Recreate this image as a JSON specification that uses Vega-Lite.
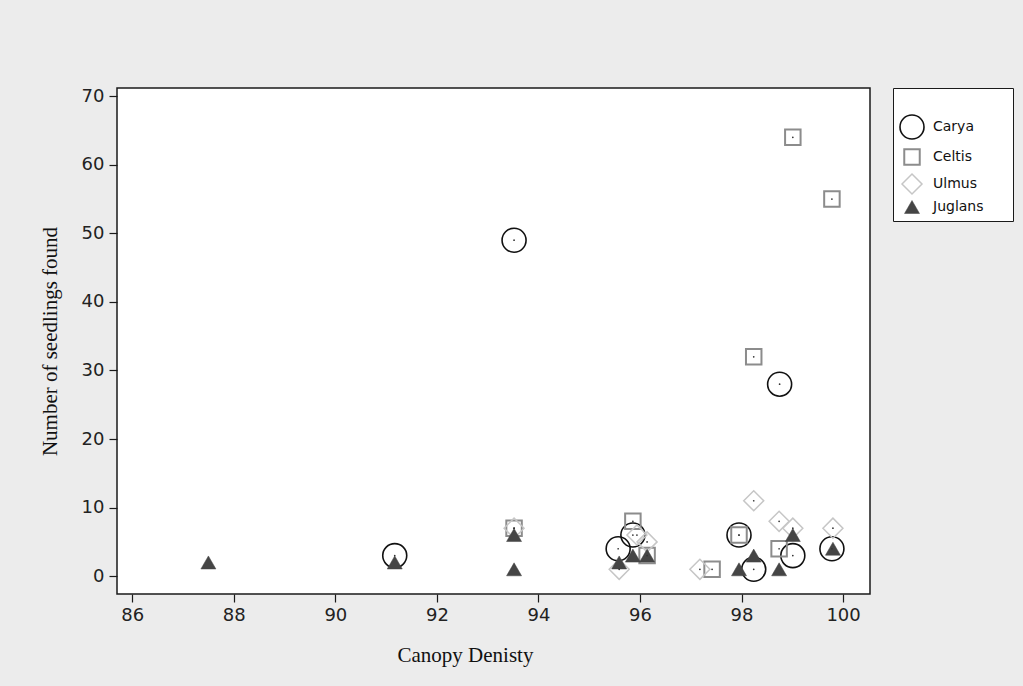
{
  "$schema": "https://vega.github.io/schema/vega-lite/v6.json",
  "width": 753,
  "height": 506,
  "autosize": {"type": "none"},
  "padding": {"left": 117, "top": 88, "right": 153, "bottom": 92},
  "background": "#ececec",
  "config": {
    "view": {"fill": "white", "stroke": "#1a1a1a", "strokeWidth": 1.5},
    "axis": {
      "grid": false,
      "domain": false,
      "tickColor": "#1a1a1a",
      "tickSize": 8,
      "tickWidth": 1.2,
      "labelFont": "DejaVu Sans",
      "labelFontSize": 18,
      "labelColor": "#222",
      "titleFont": "Liberation Serif",
      "titleFontSize": 21,
      "titleFontWeight": "normal",
      "titleColor": "#111"
    }
  },
  "data": {
    "values": [
      {"species": "Carya", "canopy": 91.17, "seedlings": 3},
      {"species": "Carya", "canopy": 93.52, "seedlings": 49},
      {"species": "Carya", "canopy": 95.57, "seedlings": 4},
      {"species": "Carya", "canopy": 95.86, "seedlings": 6},
      {"species": "Carya", "canopy": 97.95, "seedlings": 6},
      {"species": "Carya", "canopy": 98.24, "seedlings": 1},
      {"species": "Carya", "canopy": 98.75, "seedlings": 28},
      {"species": "Carya", "canopy": 99.01, "seedlings": 3},
      {"species": "Carya", "canopy": 99.78, "seedlings": 4},
      {"species": "Celtis", "canopy": 93.52, "seedlings": 7},
      {"species": "Celtis", "canopy": 95.86, "seedlings": 8},
      {"species": "Celtis", "canopy": 96.14, "seedlings": 3},
      {"species": "Celtis", "canopy": 97.42, "seedlings": 1},
      {"species": "Celtis", "canopy": 97.95, "seedlings": 6},
      {"species": "Celtis", "canopy": 98.24, "seedlings": 32},
      {"species": "Celtis", "canopy": 98.74, "seedlings": 4},
      {"species": "Celtis", "canopy": 99.01, "seedlings": 64},
      {"species": "Celtis", "canopy": 99.78, "seedlings": 55},
      {"species": "Ulmus", "canopy": 93.52, "seedlings": 7},
      {"species": "Ulmus", "canopy": 95.59, "seedlings": 1},
      {"species": "Ulmus", "canopy": 95.94, "seedlings": 6},
      {"species": "Ulmus", "canopy": 96.14, "seedlings": 5},
      {"species": "Ulmus", "canopy": 97.18, "seedlings": 1},
      {"species": "Ulmus", "canopy": 98.24, "seedlings": 11},
      {"species": "Ulmus", "canopy": 98.74, "seedlings": 8},
      {"species": "Ulmus", "canopy": 99.01, "seedlings": 7},
      {"species": "Ulmus", "canopy": 99.8, "seedlings": 7},
      {"species": "Juglans", "canopy": 87.5, "seedlings": 2},
      {"species": "Juglans", "canopy": 91.17, "seedlings": 2},
      {"species": "Juglans", "canopy": 93.52, "seedlings": 6},
      {"species": "Juglans", "canopy": 93.52, "seedlings": 1},
      {"species": "Juglans", "canopy": 95.59, "seedlings": 2},
      {"species": "Juglans", "canopy": 95.86, "seedlings": 3},
      {"species": "Juglans", "canopy": 96.14, "seedlings": 3},
      {"species": "Juglans", "canopy": 97.95, "seedlings": 1},
      {"species": "Juglans", "canopy": 98.24, "seedlings": 3},
      {"species": "Juglans", "canopy": 98.74, "seedlings": 1},
      {"species": "Juglans", "canopy": 99.01, "seedlings": 6},
      {"species": "Juglans", "canopy": 99.8, "seedlings": 4}
    ]
  },
  "encoding": {
    "x": {
      "field": "canopy",
      "type": "quantitative",
      "title": "Canopy Denisty",
      "scale": {"domain": [85.7, 100.53], "nice": false, "zero": false},
      "axis": {"values": [86, 88, 90, 92, 94, 96, 98, 100], "labelPadding": 4, "titlePadding": 20, "titleX": 348}
    },
    "y": {
      "field": "seedlings",
      "type": "quantitative",
      "title": "Number of seedlings found",
      "scale": {"domain": [-2.6, 71.2], "nice": false, "zero": false},
      "axis": {"values": [0, 10, 20, 30, 40, 50, 60, 70], "labelPadding": 5, "titlePadding": 21}
    }
  },
  "layer": [
    {
      "mark": {"type": "point", "filled": false, "opacity": 1},
      "encoding": {
        "shape": {
          "field": "species",
          "type": "nominal",
          "scale": {"domain": ["Carya", "Celtis", "Ulmus", "Juglans"], "range": ["circle", "square", "diamond", "triangle-up"]},
          "legend": {
            "title": "\u2800\u2800\u2800\u2800\u2800\u2800\u2800\u2800\u2800\u2800\u2800\u2800",
            "titleFontSize": 12,
            "titleColor": "white",
            "titlePadding": 8,
            "orient": "none",
            "legendX": 776,
            "legendY": 0,
            "padding": 6,
            "strokeColor": "#1a1a1a",
            "fillColor": "white",
            "labelFont": "DejaVu Sans",
            "labelFontSize": 14,
            "labelColor": "#111",
            "labelOffset": 8,
            "rowPadding": 2,
            "symbolOpacity": 1
          }
        },
        "stroke": {
          "field": "species",
          "type": "nominal",
          "scale": {"domain": ["Carya", "Celtis", "Ulmus", "Juglans"], "range": ["#111111", "#8c8c8c", "#c6c6c6", "#454545"]}
        },
        "fill": {
          "field": "species",
          "type": "nominal",
          "scale": {"domain": ["Carya", "Celtis", "Ulmus", "Juglans"], "range": ["transparent", "transparent", "transparent", "#454545"]}
        },
        "size": {
          "field": "species",
          "type": "nominal",
          "scale": {"type": "ordinal", "domain": ["Carya", "Celtis", "Ulmus", "Juglans"], "range": [576, 240, 400, 225]}
        },
        "strokeWidth": {
          "field": "species",
          "type": "nominal",
          "scale": {"type": "ordinal", "domain": ["Carya", "Celtis", "Ulmus", "Juglans"], "range": [1.6, 2, 1.5, 0.5]}
        }
      }
    },
    {
      "transform": [{"filter": "datum.species != 'Juglans'"}],
      "mark": {"type": "point", "filled": true, "size": 3, "color": "#333", "opacity": 1}
    }
  ]
}
